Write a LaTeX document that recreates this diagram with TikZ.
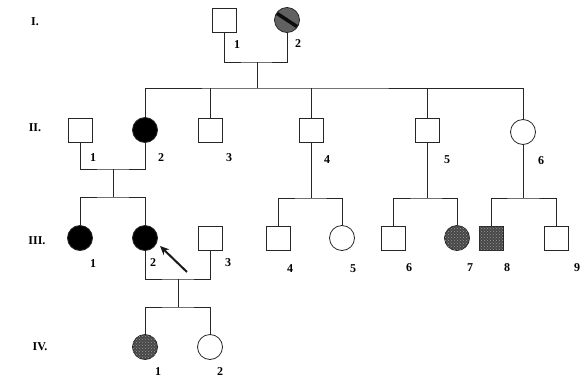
\documentclass[tikz,border=0pt]{standalone}
\usepackage{fontspec}
\setmainfont{Liberation Serif}
\usetikzlibrary{patterns,arrows.meta}
\begin{document}
\begin{tikzpicture}[x=1pt,y=-1pt,
  line width=0.8pt, draw=black!85,
  male/.style={draw=black!85,rectangle,minimum size=24pt,inner sep=0pt,fill=white},
  female/.style={draw=black!85,circle,minimum size=25pt,inner sep=0pt,fill=white},
  affected/.style={fill=black},
  carrier/.style={fill=black!72, postaction={pattern=crosshatch dots, pattern color=black!40}},
  hatched/.style={fill=black!62, path picture={\draw[line width=3.5pt,black!95]
      ([xshift=-2pt,yshift=-3pt]path picture bounding box.north west) -- ([xshift=2pt,yshift=3pt]path picture bounding box.south east);}},
  lbl/.style={font=\fontsize{12}{12}\selectfont\bfseries, inner sep=0pt},
  link/.style={draw=black!85, line width=0.8pt}]
\useasboundingbox (0,0) rectangle (584,389);
\fill[white] (0,0) rectangle (584,389);

% generation labels
\node[lbl] (gI)   at (35,22)  {I.};
\node[lbl] (gII)  at (35,128) {II.};
\node[lbl] (gIII) at (37,241) {III.};
\node[lbl] (gIV)  at (40,347) {IV.};

% Generation I
\node[male]   (I1) at (224,20) {};
\node[female,hatched] (I2) at (287,20) {};
% Generation II
\node[male]   (II1) at (80,130) {};
\node[female,affected] (II2) at (145,130) {};
\node[male]   (II3) at (210,130) {};
\node[male]   (II4) at (311,130) {};
\node[male]   (II5) at (427,130) {};
\node[female] (II6) at (523,132) {};
% Generation III
\node[female,affected] (III1) at (80,238) {};
\node[female,affected] (III2) at (145,238) {};
\node[male]   (III3) at (210,238) {};
\node[male]   (III4) at (278,238) {};
\node[female] (III5) at (342,238) {};
\node[male]   (III6) at (393,238) {};
\node[female,carrier] (III7) at (457,238) {};
\node[male,carrier]   (III8) at (491,238) {};
\node[male]   (III9) at (556,238) {};
% Generation IV
\node[female,carrier] (IV1) at (145,347) {};
\node[female] (IV2) at (210,347) {};

% junction coordinates
\coordinate (m1) at (257,62);
\coordinate (s1) at (257,88);
\coordinate (m2) at (113,169);
\coordinate (s2) at (113,197);
\coordinate (m3) at (178,279);
\coordinate (s3) at (178,307);
\coordinate (s4) at (311,198);
\coordinate (s5) at (427,198);
\coordinate (s6) at (523,198);

% I marriage and sibship
\draw[link] (I1.south) |- (m1) -| (I2.south);
\draw[link] (m1) -- (s1);
\draw[link] (II2.north) |- (s1) -| (II6.north);
\draw[link] (II3.north) -- (II3.north |- s1);
\draw[link] (II4.north) -- (II4.north |- s1);
\draw[link] (II5.north) -- (II5.north |- s1);

% II-1 x II-2
\draw[link] (II1.south) |- (m2) -| (II2.south);
\draw[link] (m2) -- (s2);
\draw[link] (III1.north) |- (s2) -| (III2.north);

% II-4, II-5, II-6 offspring
\draw[link] (II4.south) -- (s4);
\draw[link] (III4.north) |- (s4) -| (III5.north);
\draw[link] (II5.south) -- (s5);
\draw[link] (III6.north) |- (s5) -| (III7.north);
\draw[link] (II6.south) -- (s6);
\draw[link] (III8.north) |- (s6) -| (III9.north);

% III-2 x III-3
\draw[link] (III2.south) |- (m3) -| (III3.south);
\draw[link] (m3) -- (s3);
\draw[link] (IV1.north) |- (s3) -| (IV2.north);

% proband arrow
\coordinate (pa) at (187,272);
\coordinate (pt) at (160,246);
\draw[line width=2pt, black!90, -{Stealth[length=9pt,width=8pt]}] (pa) -- (pt);

% individual numbers
\node[lbl] (nI1) at (237,45) {1};
\node[lbl] (nI2) at (298,44) {2};
\node[lbl] (nII1) at (93,158) {1};
\node[lbl] (nII2) at (161,158) {2};
\node[lbl] (nII3) at (229,158) {3};
\node[lbl] (nII4) at (327,160) {4};
\node[lbl] (nII5) at (447,160) {5};
\node[lbl] (nII6) at (541,161) {6};
\node[lbl] (nIII1) at (93,264) {1};
\node[lbl] (nIII2) at (153,263) {2};
\node[lbl] (nIII3) at (228,263) {3};
\node[lbl] (nIII4) at (290,269) {4};
\node[lbl] (nIII5) at (353,269) {5};
\node[lbl] (nIII6) at (409,268) {6};
\node[lbl] (nIII7) at (470,268) {7};
\node[lbl] (nIII8) at (507,268) {8};
\node[lbl] (nIII9) at (577,268) {9};
\node[lbl] (nIV1) at (158,372) {1};
\node[lbl] (nIV2) at (220,372) {2};
\end{tikzpicture}
\end{document}
